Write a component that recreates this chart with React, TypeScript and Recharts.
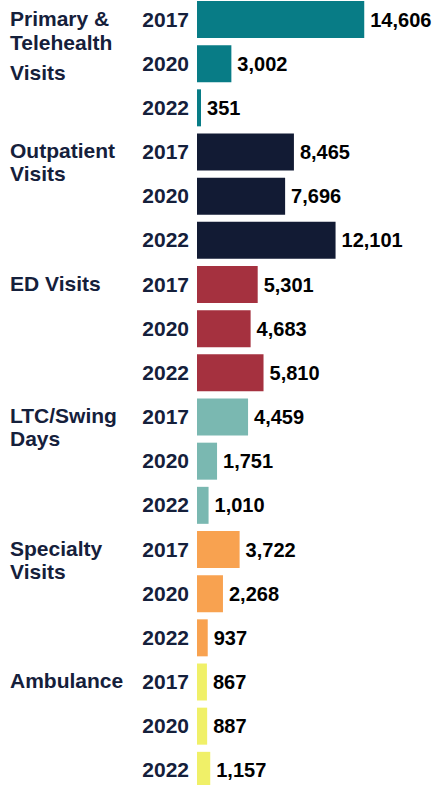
import { BarChart, Bar, XAxis, YAxis, Cell, LabelList } from 'recharts';

const categoryLines: string[][] = [
  ['Primary &', 'Telehealth', 'Visits'],
  ['Outpatient', 'Visits'],
  ['ED Visits'],
  ['LTC/Swing', 'Days'],
  ['Specialty', 'Visits'],
  ['Ambulance'],
];
const years = ['2017', '2020', '2022'];
const primaryVisits = [14606, 3002, 351];
const outpatientVisits = [8465, 7696, 12101];
const edVisits = [5301, 4683, 5810];
const ltcSwingDays = [4459, 1751, 1010];
const specialtyVisits = [3722, 2268, 937];
const ambulance = [867, 887, 1157];
const categoryColors = ['#087c86', '#121b34', '#a5313f', '#7ab8b1', '#f8a250', '#f0f068'];

const seriesByCategory = [primaryVisits, outpatientVisits, edVisits, ltcSwingDays, specialtyVisits, ambulance];

const chartData = seriesByCategory.flatMap((vals, ci) =>
  vals.map((v, yi) => ({
    key: `${ci}-${years[yi]}`,
    cat: ci,
    year: years[yi],
    first: yi === 0,
    value: v,
    color: categoryColors[ci],
  }))
);

const FONT = '"Liberation Sans", Arial, sans-serif';
const NAVY = '#15203b';

function YearTick(props: any) {
  const { x, y, payload } = props;
  const row = chartData.find((d) => d.key === payload.value);
  if (!row) return null;
  const lines = categoryLines[row.cat];
  // the first group has a looser third line
  const lineOffsets = row.cat === 0 ? [0, 24, 54] : [0, 23, 46];
  return (
    <g>
      <text
        x={x}
        y={y}
        dy="0.36em"
        textAnchor="end"
        fontFamily={FONT}
        fontWeight="bold"
        fontSize={21}
        fill={NAVY}
      >
        {row.year}
      </text>
      {row.first &&
        lines.map((ln, i) => (
          <text
            key={ln}
            x={10}
            y={y - 1 + lineOffsets[i]}
            dy="0.36em"
            textAnchor="start"
            fontFamily={FONT}
            fontWeight="bold"
            fontSize={21}
            fill={NAVY}
          >
            {ln}
          </text>
        ))}
    </g>
  );
}

export default function App() {
  return (
    <div style={{ width: 434, height: 785, overflow: 'hidden' }}>
      <style>{`body{margin:0}`}</style>
      <div style={{ marginTop: -3 }}>
        <BarChart
          width={434}
          height={795}
          data={chartData}
          layout="vertical"
          margin={{ top: 0, right: 8, bottom: 0, left: 0 }}
        >
          <XAxis type="number" domain={[0, 20000]} hide />
          <YAxis
            type="category"
            dataKey="key"
            width={197}
            axisLine={false}
            tickLine={false}
            tickSize={0}
            tickMargin={8}
            interval={0}
            tick={<YearTick />}
          />
          <Bar dataKey="value" barSize={37} isAnimationActive={false}>
            {chartData.map((d) => (
              <Cell key={d.key} fill={d.color} />
            ))}
            <LabelList
              dataKey="value"
              position="right"
              offset={6}
              formatter={(v: any) => Number(v).toLocaleString('en-US')}
              style={{ fontFamily: FONT, fontWeight: 'bold', fontSize: 20, fill: '#000' }}
            />
          </Bar>
        </BarChart>
      </div>
    </div>
  );
}
